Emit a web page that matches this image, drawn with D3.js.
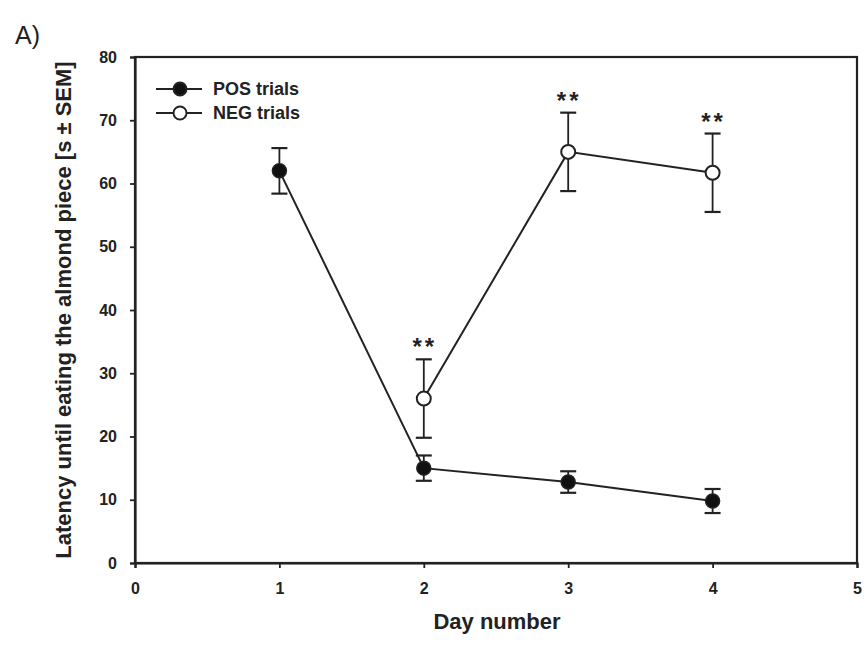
<!DOCTYPE html>
<html><head><meta charset="utf-8">
<script src="https://cdn.jsdelivr.net/npm/d3@7"></script>
<style>body{margin:0;background:#fff}svg{display:block}text{font-family:"Liberation Sans",Arial,sans-serif;fill:#222}</style>
</head><body>
<svg id="c" width="867" height="646"></svg>
<script>
const days = [1, 2, 3, 4];
const posMean = [62, 15, 12.8, 9.8];
const posErr = [3.6, 2.0, 1.7, 1.9];
const negDays = [2, 3, 4];
const negMean = [26, 65, 61.7];
const negErr = [6.2, 6.2, 6.2];
const sigDays = [2, 3, 4];
const xTicks = [0, 1, 2, 3, 4, 5];
const yTicks = [0, 10, 20, 30, 40, 50, 60, 70, 80];

const svg = d3.select("#c");
const x = d3.scaleLinear().domain([0, 5]).range([135, 857]);
const y = d3.scaleLinear().domain([0, 80]).range([563, 57]);
const col = "#222";

// frame
svg.append("rect").attr("x", x(0)).attr("y", y(80)).attr("width", x(5) - x(0)).attr("height", y(0) - y(80))
  .attr("fill", "none").attr("stroke", col).attr("stroke-width", 2.2);

const xa = svg.append("g").attr("transform", `translate(0,${y(0)})`)
  .call(d3.axisBottom(x).tickValues(xTicks).tickSize(5).tickPadding(15).tickFormat(d3.format("d")));
const ya = svg.append("g").attr("transform", `translate(${x(0)},0)`)
  .call(d3.axisLeft(y).tickValues(yTicks).tickSize(5).tickPadding(13).tickFormat(d3.format("d")));
[xa, ya].forEach(a => {
  a.select(".domain").attr("stroke", col).attr("stroke-width", 2.2);
  a.selectAll(".tick line").attr("stroke", col).attr("stroke-width", 1.8);
  a.selectAll("text").style("font-size", "16px").style("font-weight", "bold")
    .style("font-family", '"Liberation Sans",Arial,sans-serif').attr("fill", "#444");
});

const line = d3.line().x(d => x(d[0])).y(d => y(d[1]));
const posPts = days.map((d, i) => [d, posMean[i], posErr[i]]);
const negPts = negDays.map((d, i) => [d, negMean[i], negErr[i]]);

function errBars(pts) {
  const g = svg.append("g").attr("stroke", col).attr("stroke-width", 1.8);
  pts.forEach(p => {
    g.append("line").attr("x1", x(p[0])).attr("x2", x(p[0])).attr("y1", y(p[1] - p[2])).attr("y2", y(p[1] + p[2]));
    [p[1] - p[2], p[1] + p[2]].forEach(v =>
      g.append("line").attr("x1", x(p[0]) - 8).attr("x2", x(p[0]) + 8).attr("y1", y(v)).attr("y2", y(v)).attr("stroke-width", 2.2));
  });
}
errBars(negPts);
errBars(posPts);
svg.append("path").attr("d", line(posPts)).attr("fill", "none").attr("stroke", col).attr("stroke-width", 2);
svg.append("path").attr("d", line(negPts)).attr("fill", "none").attr("stroke", col).attr("stroke-width", 2);
svg.selectAll(".pm").data(posPts).enter().append("circle").attr("cx", d => x(d[0])).attr("cy", d => y(d[1]))
  .attr("r", 7).attr("fill", "#111").attr("stroke", col).attr("stroke-width", 1.5);
svg.selectAll(".nm").data(negPts).enter().append("circle").attr("cx", d => x(d[0])).attr("cy", d => y(d[1]))
  .attr("r", 7).attr("fill", "#fff").attr("stroke", col).attr("stroke-width", 2);

// significance
negPts.filter(p => sigDays.includes(p[0])).forEach(p => {
  svg.append("text").attr("x", x(p[0]) + 1).attr("y", y(p[1] + p[2]) - 4).attr("text-anchor", "middle")
    .style("font-size", "24px").style("font-weight", "bold").style("letter-spacing", "3px").attr("fill", "#111").text("**");
});

// legend
const leg = [["POS trials", "#111"], ["NEG trials", "#fff"]];
leg.forEach((l, i) => {
  const ly = 89 + i * 24;
  svg.append("line").attr("x1", 156).attr("x2", 202).attr("y1", ly).attr("y2", ly).attr("stroke", col).attr("stroke-width", 2);
  svg.append("circle").attr("cx", 180).attr("cy", ly).attr("r", 6.5).attr("fill", l[1]).attr("stroke", col).attr("stroke-width", 2);
  svg.append("text").attr("x", 213).attr("y", ly + 6).style("font-size", "18px").style("font-weight", "bold").attr("fill", "#555").text(l[0]);
});

// titles
svg.append("text").attr("x", 497).attr("y", 629).attr("text-anchor", "middle").style("font-size", "22px").style("font-weight", "bold").attr("fill", "#333").text("Day number");
svg.append("text").attr("transform", `translate(71,${(y(0) + y(80)) / 2}) rotate(-90)`).attr("text-anchor", "middle")
  .style("font-size", "22px").style("font-weight", "bold").attr("fill", "#333").text("Latency until eating the almond piece [s ± SEM]");
svg.append("text").attr("x", 15).attr("y", 44).style("font-size", "25px").attr("fill", "#222").text("A)");
</script>
</body></html>
